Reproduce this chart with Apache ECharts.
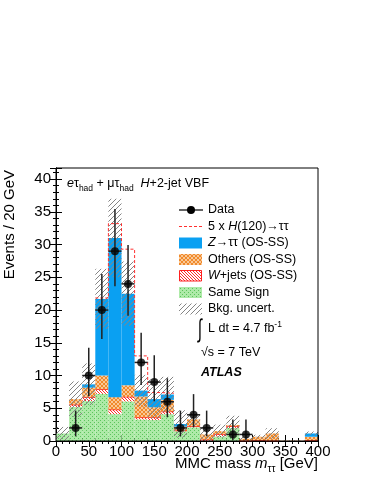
<!DOCTYPE html>
<html><head><meta charset="utf-8">
<script src="https://cdn.jsdelivr.net/npm/echarts@6/dist/echarts.min.js"></script>
<style>html,body{margin:0;padding:0;background:#fff}#c{width:374px;height:484px}</style>
</head><body><div id="c"></div><script>
// ---- data (20 GeV bins, lower edges) ----
const binLow   = [0,20,40,60,80,100,120,140,160,180,200,220,240,260,280,300,320,340,360,380];
const binWidth = 20;
const sameSign = [1.15,5.2,6.1,7.2,4.1,6.05,3.3,3.2,4.1,1.5,2.1,0,0.7,2.0,0,0,0,0,0,0];
const wJets    = [0,0.35,0.6,0.7,0.7,0.7,0.3,0.4,0.4,0.1,0.15,0.2,0.35,0.25,0.05,0.1,0.05,0,0,0.1];
const others   = [0,0.85,1.45,2.1,1.9,1.75,3.2,1.55,1.8,0.6,1.05,0.8,0.45,0.2,0.3,0.55,1.1,0.05,0.05,0.55];
const zTauTau  = [0,0,0.5,11.7,24.3,14.0,0.9,1.25,0.8,0.4,0,0,0,0,0,0,0,0,0,0.5];
const signal5x = [0,0,0,0.15,2.2,6.8,5.3,1.0,0.2,0,0,0,0,0,0,0,0,0,0,0];
const bkgUnc   = [1.0,2.7,3.2,4.6,6.0,4.9,2.4,3.0,2.7,2.1,1.0,1.1,1.0,1.4,0.3,0.3,0.8,0.05,0.05,0.3];
const dataVals = [0,2,10,20,29,24,12,9,6,2,4,2,0,1,1,0,0,0,0,0];
const errLow   = [0,1.29,3.11,4.42,5.35,4.88,3.44,2.94,2.38,1.29,1.91,1.29,0,0.83,0.83,0,0,0,0,0];
const errHigh  = [0,2.64,4.26,5.50,6.44,5.95,4.53,4.11,3.58,2.64,3.16,2.64,0,2.30,2.30,0,0,0,0,0];
const xMin = 0, xMax = 400, xStep = 50;
const yMin = 0, yMax = 41.7, yStep = 5;

const FONT = 'Liberation Sans, Arial, Helvetica, sans-serif';

function makePattern(size, draw){
  const c = document.createElement('canvas'); c.width = size; c.height = size;
  const g = c.getContext('2d'); draw(g, size);
  return {image: c, repeat: 'repeat'};
}
const greenPat = makePattern(4,(g,s)=>{g.fillStyle='#aeeaa8';g.fillRect(0,0,s,s);g.fillStyle='#5cc45c';g.fillRect(0,0,1,1);g.fillRect(2,2,1,1);});
const orangePat = makePattern(4,(g,s)=>{g.fillStyle='#fac896';g.fillRect(0,0,s,s);g.fillStyle='#f08a2c';
  for(let i=0;i<s;i++){g.fillRect(i,i,1,1);g.fillRect(s-1-i,i,1,1);}});
const redPat = makePattern(3,(g,s)=>{g.fillStyle='#ffffff';g.fillRect(0,0,s,s);g.fillStyle='#ff2a2a';
  for(let i=0;i<s;i++){g.fillRect(i,i,1,1);}});
const hatchPat = makePattern(5,(g,s)=>{g.fillStyle='#858585';for(let i=0;i<s;i++){g.fillRect(i,s-1-i,1,1);}});
const blue = '#0aa0f2';

// cumulative stack
const c1 = sameSign.map(v=>v);
const c2 = c1.map((v,i)=>v+wJets[i]);
const c3 = c2.map((v,i)=>v+others[i]);
const c4 = c3.map((v,i)=>v+zTauTau[i]);

function rectSeries(name, lo, hi, fill, z, topStroke){
  return {
    type:'custom', name, z, silent:true, animation:false,
    data: binLow.map((x,i)=>[x, x+binWidth, lo[i], hi[i]]),
    encode:{x:[0,1], y:[2,3]},
    renderItem(params, api){
      const a = api.coord([api.value(0), api.value(3)]);
      const b = api.coord([api.value(1), api.value(2)]);
      const h = b[1]-a[1];
      const children = [];
      if (h > 0.05) {
        children.push({type:'rect', shape:{x:a[0], y:a[1], width:b[0]-a[0], height:h}, style:{fill}});
        if (topStroke) children.push({type:'line', shape:{x1:a[0],y1:a[1],x2:b[0],y2:a[1]}, style:{stroke:topStroke, lineWidth:1.3}});
      }
      return {type:'group', children};
    }
  };
}

const zeros = binLow.map(()=>0);
const uncLo = c4.map((v,i)=>Math.max(0, v-bkgUnc[i]));
const uncHi = c4.map((v,i)=>v+bkgUnc[i]);

// signal outline
const sigLine = [];
binLow.forEach((x,i)=>{ if (signal5x[i]>0){ sigLine.push([x, c4[i]+signal5x[i]]); sigLine.push([x+binWidth, c4[i]+signal5x[i]]); }});

const dataPts = [], dataErr = [];
binLow.forEach((x,i)=>{ if (dataVals[i]>0){
  dataPts.push([x+binWidth/2, dataVals[i]]);
  dataErr.push([x+binWidth/2, dataVals[i], dataVals[i]-errLow[i], dataVals[i]+errHigh[i], x, x+binWidth]);
}});

const axisCommon = {
  type:'value', splitLine:{show:false},
  axisLine:{show:true, lineStyle:{color:'#000', width:1}},
  axisTick:{show:true, inside:true, length:6, lineStyle:{color:'#000'}},
  minorTick:{show:true, splitNumber:5, length:3, lineStyle:{color:'#000'}},
  minorSplitLine:{show:false}
};
const labelStyle = {color:'#000', fontSize:15, fontFamily:FONT};

const chart = echarts.init(document.getElementById('c'), null, {renderer:'canvas'});
chart.setOption({
  animation:false,
  backgroundColor:'#fff',
  grid:{left:56, right:56, top:168, bottom:43, show:false},
  xAxis:[
    Object.assign({}, axisCommon, {min:xMin, max:xMax, interval:xStep, position:'bottom',
      axisLabel:Object.assign({margin:3}, labelStyle)}),
    Object.assign({}, axisCommon, {min:xMin, max:xMax, interval:xStep, position:'top', axisLabel:{show:false}})
  ],
  yAxis:[
    Object.assign({}, axisCommon, {min:yMin, max:yMax, interval:yStep, position:'left',
      axisLabel:Object.assign({margin:5, showMaxLabel:false, formatter:v=>(Math.abs(v%5)<1e-6?String(v):'')}, labelStyle)}),
    Object.assign({}, axisCommon, {min:yMin, max:yMax, interval:yStep, position:'right', axisLabel:{show:false}})
  ],
  series:[
    rectSeries('Same Sign', zeros, c1, greenPat, 1),
    rectSeries('W+jets', c1, c2, redPat, 2, '#ff1a1a'),
    rectSeries('Others', c2, c3, orangePat, 3),
    rectSeries('Ztautau', c3, c4, blue, 4),
    rectSeries('Bkg unc', uncLo, uncHi, hatchPat, 5),
    {type:'line', name:'signal', data:sigLine, z:6, showSymbol:false, silent:true,
      lineStyle:{color:'#ff3030', width:1, type:[3,2]}},
    {type:'custom', name:'dataErr', z:7, silent:true, data:dataErr, encode:{x:[0,4,5], y:[1,2,3]},
      renderItem(params, api){
        const c = api.coord([api.value(0), api.value(1)]);
        const lo = api.coord([api.value(0), api.value(2)]);
        const hi = api.coord([api.value(0), api.value(3)]);
        const l = api.coord([api.value(4), api.value(1)]);
        const r = api.coord([api.value(5), api.value(1)]);
        const st = {stroke:'#222', lineWidth:1.5};
        return {type:'group', children:[
          {type:'line', shape:{x1:c[0],y1:lo[1],x2:c[0],y2:hi[1]}, style:st},
          {type:'line', shape:{x1:l[0],y1:c[1],x2:r[0],y2:c[1]}, style:st}
        ]};
      }},
    {type:'scatter', name:'Data', data:dataPts, z:8, symbol:'circle', symbolSize:8, silent:true,
      itemStyle:{color:'#000'}}
  ],
  graphic:[
    // frame
    {type:'rect', z:100, shape:{x:56, y:168, width:262, height:273}, style:{fill:null, stroke:'#000', lineWidth:1}},
    // title
    {type:'text', x:67, y:184, z:100, style:{text:'{it|e}τ{s|had} + μτ{s|had}  {it|H}+2-jet VBF', fontSize:12.5, fontFamily:FONT, fill:'#000', lineHeight:18, verticalAlign:'middle',
      rich:{it:{fontSize:12.5, fontStyle:'italic', fontFamily:FONT, lineHeight:18}, s:{fontSize:8.5, fontFamily:FONT, lineHeight:8, verticalAlign:'bottom'}}}},
    // axis titles
    {type:'text', x:9.5, y:170, rotation:Math.PI/2, z:100, style:{text:'Events / 20 GeV', fontSize:15, fontFamily:FONT, fill:'#000', align:'right', verticalAlign:'middle'}},
    {type:'text', x:318, y:464, z:100, style:{text:'MMC mass {it|m}{s|ττ} [GeV]', fontSize:15, fontFamily:FONT, fill:'#000', align:'right', verticalAlign:'middle', lineHeight:20,
      rich:{it:{fontSize:15, fontStyle:'italic', fontFamily:FONT, lineHeight:20}, s:{fontSize:10, fontFamily:FONT, lineHeight:10, verticalAlign:'bottom'}}}},
    // legend: Data
    {type:'line', z:100, shape:{x1:179, y1:210, x2:203, y2:210}, style:{stroke:'#000', lineWidth:1.2}},
    {type:'circle', z:101, shape:{cx:191, cy:210, r:4}, style:{fill:'#000'}},
    {type:'text', x:208, y:210, z:100, style:{text:'Data', fontSize:12.5, fontFamily:FONT, fill:'#000', verticalAlign:'middle'}},
    // signal
    {type:'line', z:100, shape:{x1:179, y1:226.5, x2:203, y2:226.5}, style:{stroke:'#ff3030', lineWidth:1, lineDash:[3,2]}},
    {type:'text', x:208, y:226.5, z:100, style:{text:'5 x {it|H}(120)→ττ', fontSize:12.5, fontFamily:FONT, fill:'#000', verticalAlign:'middle',
      rich:{it:{fontSize:12.5, fontStyle:'italic', fontFamily:FONT}}}},
    // Z
    {type:'rect', z:100, shape:{x:179, y:237.5, width:23, height:11}, style:{fill:blue}},
    {type:'text', x:208, y:243, z:100, style:{text:'{it|Z}→ττ (OS-SS)', fontSize:12.5, fontFamily:FONT, fill:'#000', verticalAlign:'middle',
      rich:{it:{fontSize:12.5, fontStyle:'italic', fontFamily:FONT}}}},
    // Others
    {type:'rect', z:100, shape:{x:179, y:254, width:23, height:11}, style:{fill:orangePat}},
    {type:'text', x:208, y:259.5, z:100, style:{text:'Others (OS-SS)', fontSize:12.5, fontFamily:FONT, fill:'#000', verticalAlign:'middle'}},
    // W
    {type:'rect', z:100, shape:{x:179.5, y:270.5, width:22, height:10.5}, style:{fill:redPat, stroke:'#ff2020', lineWidth:1}},
    {type:'text', x:208, y:276, z:100, style:{text:'{it|W}+jets (OS-SS)', fontSize:12.5, fontFamily:FONT, fill:'#000', verticalAlign:'middle',
      rich:{it:{fontSize:12.5, fontStyle:'italic', fontFamily:FONT}}}},
    // Same sign
    {type:'rect', z:100, shape:{x:179, y:287, width:23, height:11}, style:{fill:greenPat}},
    {type:'text', x:208, y:292.5, z:100, style:{text:'Same Sign', fontSize:12.5, fontFamily:FONT, fill:'#000', verticalAlign:'middle'}},
    // Bkg unc
    {type:'rect', z:100, shape:{x:179, y:303.5, width:23, height:11}, style:{fill:hatchPat}},
    {type:'text', x:208, y:309, z:100, style:{text:'Bkg. uncert.', fontSize:12.5, fontFamily:FONT, fill:'#000', verticalAlign:'middle'}},
    // lumi
    {type:'text', x:198, y:330, z:100, scaleY:1.7, originY:0, style:{text:'∫', fontSize:15, fontFamily:FONT, fill:'#000', verticalAlign:'middle'}},
    {type:'text', x:208, y:329, z:100, style:{text:'L dt = 4.7 fb{sup|-1}', fontSize:12.5, fontFamily:FONT, fill:'#000', verticalAlign:'middle', lineHeight:18,
      rich:{sup:{fontSize:8.5, fontFamily:FONT, lineHeight:8, verticalAlign:'top'}}}},
    {type:'text', x:201, y:353, z:100, style:{text:'√s = 7 TeV', fontSize:12.5, fontFamily:FONT, fill:'#000', verticalAlign:'middle'}},
    {type:'text', x:201, y:372.5, z:100, style:{text:'ATLAS', fontSize:12.5, fontWeight:'bold', fontStyle:'italic', fontFamily:FONT, fill:'#000', verticalAlign:'middle'}}
  ]
});
</script></body></html>
